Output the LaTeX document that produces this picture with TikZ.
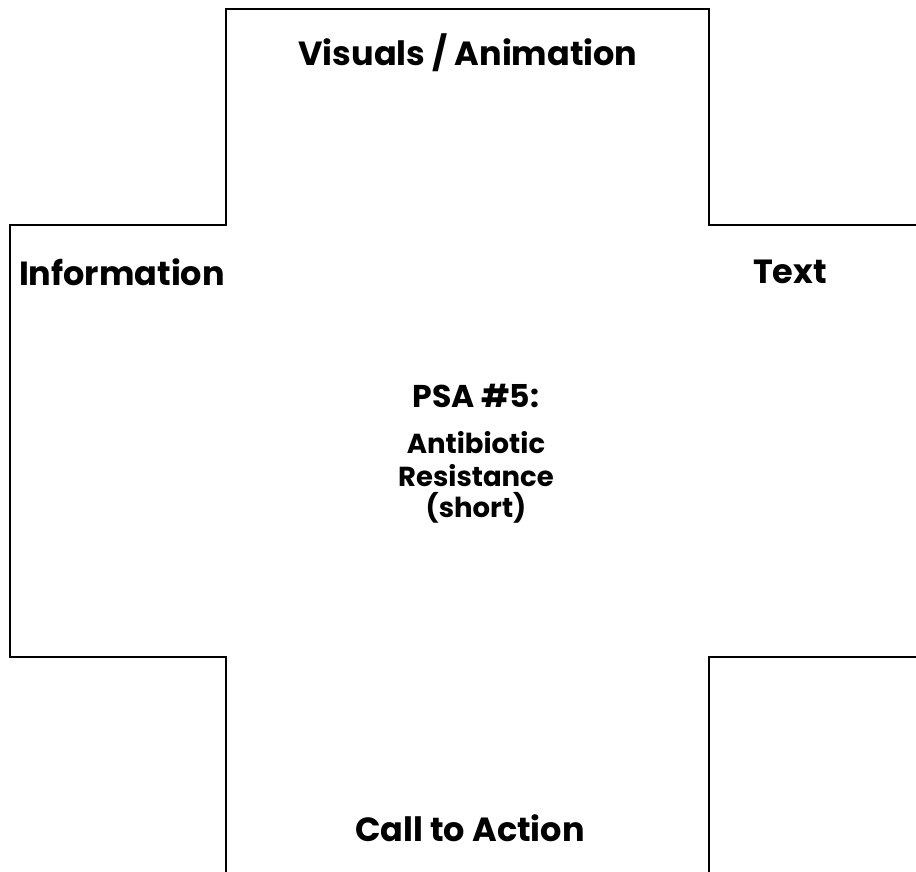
\documentclass[tikz,border=0pt]{standalone}
\usepackage{fontspec}
\setmainfont{Poppins}
\begin{document}
\begin{tikzpicture}[x=1pt,y=-1pt,
  edge/.style={draw=black,line width=2pt},
  lab/.style={font=\fontsize{33.5}{38}\selectfont\bfseries,anchor=center,inner sep=0pt},
  mid/.style={font=\fontsize{27.5}{31}\selectfont\bfseries,anchor=center,inner sep=0pt}]
\useasboundingbox (0,0) rectangle (916,872);
\fill[white] (0,0) rectangle (916,872);
\clip (0,0) rectangle (916,872);
\draw[edge] (226,890) -- (226,657) -- (10,657) -- (10,225) -- (226,225) -- (226,9) -- (709,9) -- (709,225) -- (930,225);
\draw[edge] (930,657) -- (709,657) -- (709,890);
\node[lab] (vis) at (468,53) {Visuals / Animation};
\node[lab] (info) at (122,272) {Information};
\node[lab] (txt) at (790,272) {Text};
\node[lab] (cta) at (470,828) {Call to Action};
\node[mid,font=\fontsize{31.5}{35}\selectfont\bfseries] (psa) at (476,396) {PSA \#5:};
\node[mid] (anti) at (476,443) {Antibiotic};
\node[mid] (res) at (476,476) {Resistance};
\node[mid] (short) at (476,508) {(short)};
\end{tikzpicture}
\end{document}
